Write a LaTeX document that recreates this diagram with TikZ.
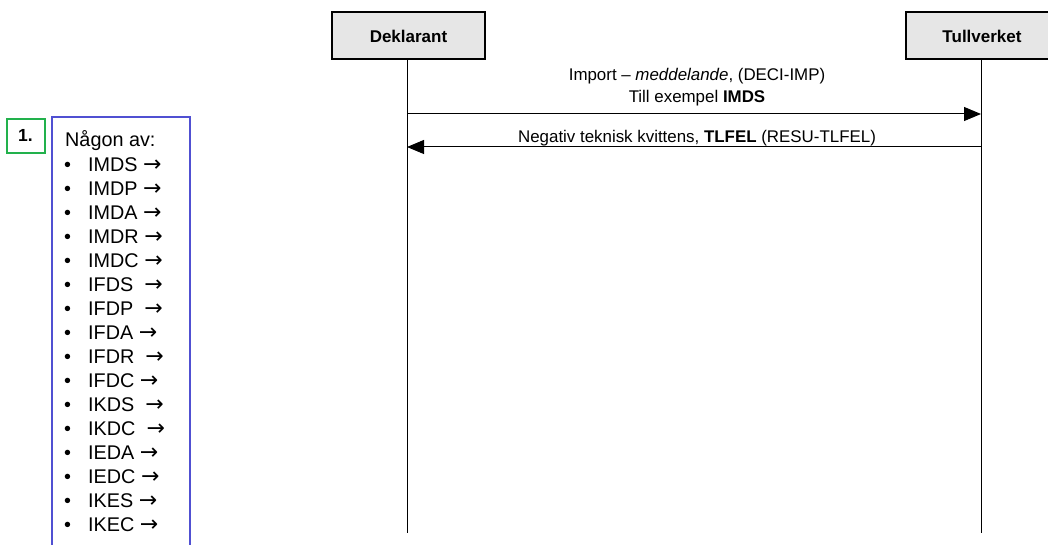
\documentclass[tikz,border=0pt]{standalone}
\usepackage{fontspec}
\setmainfont{Liberation Sans}
\newfontfamily\arrowfont{DejaVu Sans}
\usetikzlibrary{arrows.meta}
\definecolor{boxgray}{RGB}{230,230,230}
\definecolor{notegreen}{RGB}{34,177,76}
\definecolor{noteblue}{RGB}{80,80,210}
\newcommand{\rarr}{{\arrowfont\fontsize{22}{22}\selectfont\char"2192}}
\begin{document}
\begin{tikzpicture}[x=1pt,y=-1pt,
  actor/.style={draw=black,line width=2pt,fill=boxgray,minimum width=153pt,minimum height=47pt,inner sep=0pt,font=\fontsize{17}{19}\selectfont\bfseries},
  lifeline/.style={draw=black,line width=1pt},
  msg/.style={draw=black,line width=1pt,-{Triangle[length=17pt,width=14pt]}},
  msgtext/.style={font=\fontsize{16.9}{22}\selectfont,align=center,inner sep=0pt},
  item/.style={anchor=base west,inner sep=0pt,font=\fontsize{19.8}{22}\selectfont}]
\useasboundingbox (0,0) rectangle (1048,545);
% actors
\node[actor] (dek) at (408.5,36) {Deklarant};
\node[actor] (tull) at (982,36) {Tullverket};
\coordinate (dekend) at (407,533);
\coordinate (tullend) at (981,533);
\draw[lifeline] (407,60) -- (dekend);
\draw[lifeline] (981,60) -- (tullend);
% messages
\coordinate (m1s) at (407,114);
\coordinate (m1e) at (981,114);
\coordinate (m2s) at (981,147);
\coordinate (m2e) at (407,147);
\draw[msg] (m1s) -- (m1e);
\draw[msg] (m2s) -- (m2e);
\node[msgtext] (t1) at (697,87) {Import -- \textit{meddelande}, (DECI-IMP)\\Till exempel \textbf{IMDS}};
\node[msgtext] (t2) at (697,138) {Negativ teknisk kvittens, \textbf{TLFEL} (RESU-TLFEL)};
% note number
\node[draw=notegreen,line width=2pt,minimum width=38pt,minimum height=34pt,inner sep=0pt] (num) at (26,136) {};
\node[anchor=base,inner sep=0pt,font=\fontsize{17.5}{18}\selectfont\bfseries] (numtxt) at (25.5,142) {1.};
% note box (open at bottom, extends past page)
\draw[noteblue,line width=1.5pt] (52,546) -- (52,117) -- (190,117) -- (190,546);
\node[item] (head) at (65,147) {Någon av:};
\foreach \lab [count=\i] in {IMDS \rarr,IMDP \rarr,IMDA \rarr,IMDR \rarr,IMDC \rarr,IFDS\ \ \rarr,IFDP\ \ \rarr,IFDA \rarr,IFDR\ \ \rarr,IFDC \rarr,IKDS\ \ \rarr,IKDC\ \ \rarr,IEDA \rarr,IEDC \rarr,IKES \rarr,IKEC \rarr}{
  \node[item] (b\i) at (64,{147+24.06*\i}) {•};
  \node[item] (i\i) at (88,{147+24.06*\i}) {\lab};
}
\end{tikzpicture}
\end{document}
